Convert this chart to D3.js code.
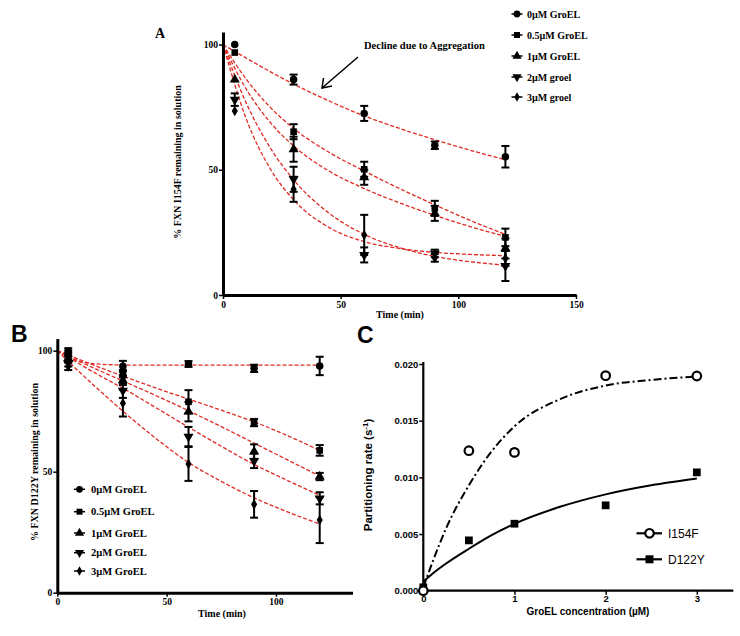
<!DOCTYPE html>
<html><head><meta charset="utf-8">
<script src="https://cdn.jsdelivr.net/npm/d3@7"></script>
<style>body{margin:0;background:#fff}svg{display:block}</style>
</head><body>
<svg id="fig" width="740" height="636"></svg>
<script>
// ---------- Panel A data (FXN I154F) ----------
const timesA = [5, 30, 60, 90, 120];
const namesA = ["0µM GroEL", "0.5µM GroEL", "1µM GroEL", "2µM groel", "3µM groel"];
const valuesA = [
  [100, 86, 72.5, 59.8, 55.2],
  [96.8, 65.2, 50.2, 34.6, 23],
  [86, 58.2, 47, 32.6, 18.6],
  [78, 46.2, 16, 16.6, 11.6],
  [73.5, 42.2, 24, 14.8, 14.6]
];
const errorsA = [
  [0, 2, 3, 1.5, 4.3],
  [0, 3, 3, 3, 3.5],
  [0, 5, 3, 3, 4],
  [2.5, 5, 3, 1.5, 6],
  [0, 5, 8, 1.5, 3]
];
const fitTimesA = [0, 10, 20, 30, 45, 60, 75, 90, 105, 120];
const fitA = [
  [100, 94.5, 89.2, 84.2, 77.5, 71.5, 66.5, 62, 57.8, 54],
  [100, 86, 75, 66.5, 57, 49.5, 42.5, 36, 29.8, 24.2],
  [100, 82, 69, 59.5, 49.5, 42.5, 36.8, 31.8, 27.3, 23.4],
  [100, 76.4, 58.9, 46, 32.7, 24.2, 18.9, 15.4, 13.3, 11.9],
  [100, 70, 50.5, 38, 27, 21.3, 18.6, 17, 16.2, 15.7]
];
const ticksA_x = [0, 50, 100, 150];
const ticksA_y = [0, 50, 100];

// ---------- Panel B data (FXN D122Y) ----------
const timesB = [5, 30, 60, 90, 120];
const namesB = ["0µM GroEL", "0.5µM GroEL", "1µM GroEL", "2µM GroEL", "3µM GroEL"];
const valuesB = [
  [99, 93.6, 94.5, 92.7, 93.7],
  [100, 90.5, 78.9, 70.3, 58.8],
  [96.5, 87.8, 74.8, 58.3, 48],
  [95, 83.5, 64.5, 54.5, 39],
  [93.5, 78.3, 53.2, 36.5, 30]
];
const errorsB = [
  [1, 2.2, 1.2, 1.5, 3.8],
  [1, 1.5, 4.8, 1.5, 2.2],
  [1, 2, 4, 3, 1.5],
  [1.5, 3, 4, 3, 2.5],
  [1.5, 5.5, 7, 5.5, 9.5]
];
const fitTimesB = [0, 10, 20, 30, 45, 60, 75, 90, 105, 120];
const fitB = [
  [100, 95.6, 94.4, 94.1, 94, 94, 94, 94, 94, 94],
  [100, 96.4, 92.9, 89.5, 84.6, 80, 75.4, 70.6, 65, 58.8],
  [100, 95.6, 91.5, 87.5, 81.5, 75.2, 68.6, 61.8, 55, 48.2],
  [100, 94.6, 89.4, 84.5, 76.5, 68.4, 60.5, 53, 46.5, 40.2],
  [100, 91.3, 83, 75, 63.8, 53.8, 46, 39.2, 33.5, 28.4]
];
const ticksB_x = [0, 50, 100];
const ticksB_y = [0, 50, 100];

// ---------- Panel C data (partitioning rate) ----------
const concC = [0, 0.5, 1, 2, 3];
const namesC = ["I154F", "D122Y"];
const rateI154F = [0.0000, 0.01235, 0.0122, 0.01897, 0.01894];
const rateD122Y = [0.0003, 0.00444, 0.00591, 0.00753, 0.01044];
const fitConcC = [0, 0.1, 0.25, 0.5, 0.75, 1, 1.5, 2, 2.5, 3];
const fitI154F = [0.0003, 0.0025, 0.0055, 0.0093, 0.0123, 0.0145, 0.0169, 0.0181, 0.0186, 0.0189];
const fitD122Y = [0.0008, 0.0015, 0.0024, 0.0037, 0.0049, 0.0059, 0.0074, 0.0085, 0.0093, 0.0099];
const ticksC_x = [0, 1, 2, 3];
const ticksC_y = [0, 0.005, 0.010, 0.015, 0.020];

// ---------- drawing ----------
const svg = d3.select("#fig");
const SERIF = "'Liberation Serif','Times New Roman',serif";
const SANS = "'Liberation Sans',Arial,sans-serif";
const RED = "#e02a24";

function symbolPath(i, size) {
  const types = [d3.symbolCircle, d3.symbolSquare, d3.symbolTriangle, d3.symbolTriangle, d3.symbolDiamond];
  return d3.symbol().type(types[i]).size(size)();
}
function symRotate(i) { return i === 3 ? " rotate(180)" : ""; }

function styleAxis(g, width, font, size) {
  g.select(".domain").attr("stroke", "#000").attr("stroke-width", width);
  g.selectAll(".tick line").attr("stroke", "#000").attr("stroke-width", 1.5);
  g.selectAll(".tick text").attr("fill", "#000").attr("font-family", font)
    .attr("font-weight", "bold").attr("font-size", size);
}

function timePanel(cfg) {
  const g = svg.append("g");
  const x = d3.scaleLinear().domain(cfg.xDomain).range(cfg.xRange);
  const y = d3.scaleLinear().domain(cfg.yDomain).range(cfg.yRange);

  const line = d3.line().x((d, i) => x(cfg.fitTimes[i])).y(d => y(d)).curve(d3.curveMonotoneX);
  cfg.fits.forEach(f => {
    g.append("path").attr("d", line(f)).attr("fill", "none")
      .attr("stroke", RED).attr("stroke-width", 1.3).attr("stroke-dasharray", "4,2");
  });

  cfg.values.forEach((vals, s) => {
    vals.forEach((v, i) => {
      const e = cfg.errors[s][i];
      const cx = x(cfg.times[i]);
      if (e > 0) {
        const eg = g.append("g").attr("stroke", "#000").attr("stroke-width", 2);
        eg.append("line").attr("x1", cx).attr("x2", cx).attr("y1", y(v - e)).attr("y2", y(v + e));
        eg.append("line").attr("x1", cx - 4).attr("x2", cx + 4).attr("y1", y(v - e)).attr("y2", y(v - e));
        eg.append("line").attr("x1", cx - 4).attr("x2", cx + 4).attr("y1", y(v + e)).attr("y2", y(v + e));
      }
      g.append("path").attr("d", symbolPath(s, s === 4 ? 32 : 44))
        .attr("transform", `translate(${cx},${y(v)})` + symRotate(s)).attr("fill", "#000");
    });
  });

  const ax = g.append("g").attr("transform", `translate(0,${cfg.yRange[0]})`)
    .call(d3.axisBottom(x).tickValues(cfg.xTicks).tickSize(4).tickSizeOuter(0).tickPadding(2));
  styleAxis(ax, 3, SERIF, cfg.tickFont);
  const ay = g.append("g").attr("transform", `translate(${cfg.xRange[0]},0)`)
    .call(d3.axisLeft(y).tickValues(cfg.yTicks).tickSize(4).tickSizeOuter(0).tickPadding(1));
  styleAxis(ay, 3, SERIF, cfg.tickFont);

  g.append("text").attr("x", cfg.xTitle[0]).attr("y", cfg.xTitle[1]).attr("text-anchor", "middle")
    .attr("font-family", SERIF).attr("font-weight", "bold").attr("font-size", 10).text("Time (min)");
  g.append("text").attr("transform", `translate(${cfg.yTitle[0]},${cfg.yTitle[1]}) rotate(-90)`)
    .attr("text-anchor", "middle").attr("font-family", SERIF).attr("font-weight", "bold")
    .attr("font-size", 10).text(cfg.yTitleText);

  cfg.names.forEach((n, s) => {
    const ly = cfg.legendY[s];
    const lg = g.append("g").attr("transform", `translate(${cfg.legendX},${ly})`);
    lg.append("line").attr("x1", -5.5).attr("x2", 5.5).attr("stroke", "#000").attr("stroke-width", 1.5);
    lg.append("path").attr("d", symbolPath(s, s === 4 ? 26 : 36)).attr("transform", symRotate(s).trim() || null).attr("fill", "#000");
    lg.append("text").attr("x", cfg.legendTextDx).attr("y", 3.5).attr("font-family", SERIF)
      .attr("font-weight", "bold").attr("font-size", cfg.legendFont).text(n);
  });
  return {x, y, g};
}

// Panel A
const A = timePanel({
  xDomain: [0, 150], xRange: [223, 576],
  yDomain: [0, 105], yRange: [295, 32],
  times: timesA, values: valuesA, errors: errorsA, fitTimes: fitTimesA, fits: fitA,
  xTicks: ticksA_x, yTicks: ticksA_y, tickFont: 9.5,
  xTitle: [400, 318], yTitle: [181, 162], yTitleText: "% FXN I154F remaining in solution",
  names: namesA, legendX: 517, legendY: [14, 35, 56, 77, 97], legendTextDx: 10, legendFont: 10
});
svg.append("text").attr("x", 364).attr("y", 49).attr("font-family", SERIF).attr("font-weight", "bold")
  .attr("font-size", 10.5).text("Decline due to Aggregation");
const arr = svg.append("g").attr("stroke", "#000").attr("stroke-width", 1.5).attr("fill", "none");
arr.append("line").attr("x1", 358).attr("y1", 57).attr("x2", 322).attr("y2", 88);
arr.append("polyline").attr("points", "323.5,78 322,88 332,86");
svg.append("text").attr("x", 155).attr("y", 38).attr("font-family", SERIF).attr("font-weight", "bold")
  .attr("font-size", 14).text("A");

// Panel B
const B = timePanel({
  xDomain: [0, 135], xRange: [57.3, 352.5],
  yDomain: [0, 105], yRange: [592.7, 338.6],
  times: timesB, values: valuesB, errors: errorsB, fitTimes: fitTimesB, fits: fitB,
  xTicks: ticksB_x, yTicks: ticksB_y, tickFont: 9.5,
  xTitle: [222, 617], yTitle: [38, 462], yTitleText: "% FXN D122Y remaining in solution",
  names: namesB, legendX: 79.5, legendY: [489.3, 511.7, 533, 552.7, 571], legendTextDx: 11.5, legendFont: 10.5
});
svg.append("text").attr("x", 11).attr("y", 342).attr("font-family", SANS).attr("font-weight", "bold")
  .attr("font-size", 23).text("B");

// Panel C
const gC = svg.append("g");
const xC = d3.scaleLinear().domain([0, 3.4]).range([423.3, 733.3]);
const yC = d3.scaleLinear().domain([0, 0.020]).range([590.7, 364]);

const lineC = d3.line().x((d, i) => xC(fitConcC[i])).y(d => yC(d)).curve(d3.curveMonotoneX);
gC.append("path").attr("d", lineC(fitI154F)).attr("fill", "none").attr("stroke", "#000")
  .attr("stroke-width", 2).attr("stroke-dasharray", "8,3,2,3");
gC.append("path").attr("d", lineC(fitD122Y)).attr("fill", "none").attr("stroke", "#000").attr("stroke-width", 2);

const axC = gC.append("g").attr("transform", `translate(0,590.7)`)
  .call(d3.axisBottom(xC).tickValues(ticksC_x).tickFormat(d3.format("d")).tickSize(4).tickSizeOuter(0).tickPadding(1));
styleAxis(axC, 2.2, SANS, 9.5);
const ayC = gC.append("g").attr("transform", `translate(423.3,0)`)
  .call(d3.axisLeft(yC).tickValues(ticksC_y).tickFormat(d3.format(".3f")).tickSize(4).tickSizeOuter(0).tickPadding(1));
styleAxis(ayC, 2.2, SANS, 9.5);
ayC.select(".domain").attr("d", "M0,362V590.7");
axC.select(".domain").attr("d", `M423.3,0H733.3`);

rateD122Y.forEach((v, i) => {
  gC.append("path").attr("d", d3.symbol().type(d3.symbolSquare).size(60)())
    .attr("transform", `translate(${xC(concC[i])},${yC(v)})`).attr("fill", "#000");
});
rateI154F.forEach((v, i) => {
  gC.append("circle").attr("cx", xC(concC[i])).attr("cy", yC(v)).attr("r", 4.3)
    .attr("fill", "#fff").attr("stroke", "#000").attr("stroke-width", 2.2);
});

const legC = [[533.3, "circle"], [559.3, "square"]];
legC.forEach(([ly, t], i) => {
  const lg = gC.append("g").attr("transform", `translate(649.5,${ly})`);
  lg.append("line").attr("x1", -13).attr("x2", 12.5).attr("stroke", "#000").attr("stroke-width", 2.2);
  if (t === "circle") lg.append("circle").attr("r", 4.3).attr("fill", "#fff").attr("stroke", "#000").attr("stroke-width", 2.2);
  else lg.append("rect").attr("x", -4).attr("y", -4).attr("width", 8).attr("height", 8).attr("fill", "#000");
  lg.append("text").attr("x", 18.5).attr("y", 4.5).attr("font-family", SANS).attr("font-size", 12).text(namesC[i]);
});

gC.append("text").attr("x", 588).attr("y", 615).attr("text-anchor", "middle").attr("font-family", SANS)
  .attr("font-weight", "bold").attr("font-size", 10).text("GroEL concentration (µM)");
const yt = gC.append("text").attr("transform", "translate(372,475) rotate(-90)").attr("text-anchor", "middle")
  .attr("font-family", SANS).attr("font-weight", "bold").attr("font-size", 11.5);
yt.append("tspan").text("Partitioning rate (s");
yt.append("tspan").attr("baseline-shift", "super").attr("font-size", 8).text("-1");
yt.append("tspan").text(")");
svg.append("text").attr("x", 357).attr("y", 343).attr("font-family", SANS).attr("font-weight", "bold")
  .attr("font-size", 23).text("C");
</script>
</body></html>
